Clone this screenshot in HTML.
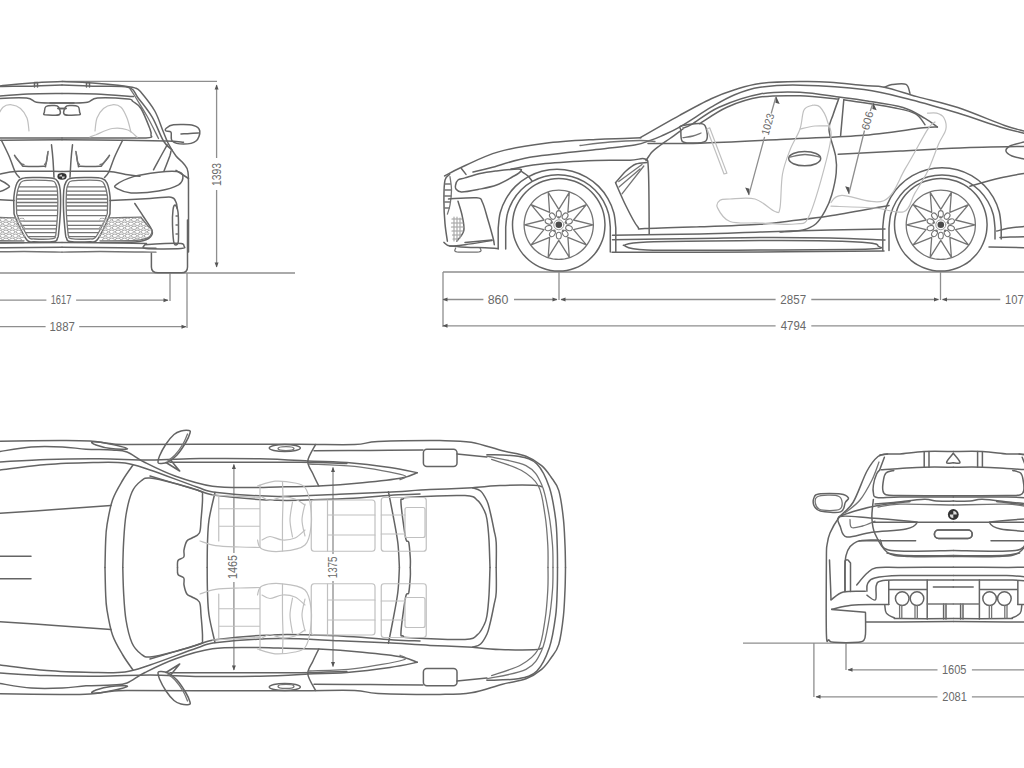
<!DOCTYPE html>
<html><head><meta charset="utf-8">
<style>
html,body{margin:0;padding:0;background:#fff;width:1024px;height:768px;overflow:hidden}
svg{display:block}
text{font-family:"Liberation Sans",sans-serif;font-size:13px;fill:#6a6a6a}
.d{stroke:#8e8e8e;stroke-width:1.3;fill:none}
.o{stroke:#646464;stroke-width:1.5;fill:none;stroke-linejoin:round;stroke-linecap:round}
.t{stroke:#747474;stroke-width:1.3;fill:none;stroke-linejoin:round;stroke-linecap:round}
.l{stroke:#c0c0c0;stroke-width:1.2;fill:none;stroke-linejoin:round;stroke-linecap:round}
.a{fill:#555;stroke:none}
</style></head>
<body>
<svg width="1024" height="768" viewBox="0 0 1024 768">
<g>
<rect width="1024" height="768" fill="#fff"/>
<g id="dims">
<!-- front view -->
<path class="d" d="M0 273H295 M170 273V301 M187 273V328 M62 81.3H217 M216.6 85V158 M216.6 190V267 M0 300.2H46.4 M76.1 300.2H168 M0 326.7H45.6 M79.2 326.7H186"/>
<path class="a" d="M168.5 300.2l-5-2v4z M186.5 326.7l-5-2v4z M216.6 84.5l-2 5h4z M216.6 267.5l-2-5h4z"/>
<text x="61" y="304.1" text-anchor="middle" textLength="20.7" lengthAdjust="spacingAndGlyphs">1617</text>
<text x="62.2" y="331.4" text-anchor="middle" textLength="25.4" lengthAdjust="spacingAndGlyphs">1887</text>
<text transform="translate(221,174.5) rotate(-90)" text-anchor="middle" textLength="23.1" lengthAdjust="spacingAndGlyphs">1393</text>
<!-- side view -->
<path class="d" d="M443 272H1024 M443 272V327 M559 272V300 M940.5 272V300 M443 299.5H483.4 M514 299.5H557 M561 299.5H775.6 M811.3 299.5H938.5 M942.5 299.5H1000.3 M443 325.8H775.6 M811.3 325.8H1024"/>
<path class="a" d="M442.5 299.5l5-2v4z M557.5 299.5l-5-2v4z M560.5 299.5l5-2v4z M939 299.5l-5-2v4z M942 299.5l5-2v4z M442.5 325.8l5-2v4z"/>
<text x="498" y="304" text-anchor="middle" textLength="20.7" lengthAdjust="spacingAndGlyphs">860</text>
<text x="793.2" y="303.8" text-anchor="middle" textLength="25.8" lengthAdjust="spacingAndGlyphs">2857</text>
<text x="1004.9" y="303.8" textLength="25" lengthAdjust="spacingAndGlyphs">1073</text>
<text x="793.4" y="330" text-anchor="middle" textLength="25.4" lengthAdjust="spacingAndGlyphs">4794</text>
<!-- top view -->
<path class="d" d="M233.9 464.5V553 M233.9 582V670 M333 467.5V554 M333 581V666.5"/>
<path class="a" d="M233.9 464l-2 5h4z M233.9 670.5l-2-5h4z M333 467l-2 5h4z M333 667l-2-5h4z"/>
<text transform="translate(237.2,567) rotate(-90)" text-anchor="middle" textLength="24" lengthAdjust="spacingAndGlyphs">1465</text>
<text transform="translate(337.4,567.4) rotate(-90)" text-anchor="middle" textLength="21.9" lengthAdjust="spacingAndGlyphs">1375</text>
<!-- rear view -->
<path class="d" d="M743 643.2H1024 M813.9 643.2V697 M846 643.2V670 M848 669.8H937.5 M971.9 669.8H1024 M816 696.8H937.5 M971.9 696.8H1024"/>
<path class="a" d="M847.5 669.8l5-2v4z M815.5 696.8l5-2v4z"/>
<text x="954.2" y="673.7" text-anchor="middle" textLength="24.6" lengthAdjust="spacingAndGlyphs">1605</text>
<text x="954.6" y="700.7" text-anchor="middle" textLength="24.6" lengthAdjust="spacingAndGlyphs">2081</text>
</g>

<g id="side">
<path class="o" d="M605 224.8C604.9 226.1 604.8 230.2 604.3 232.8C603.9 235.5 603.2 238.1 602.3 240.6C601.3 243.2 600.2 245.6 598.8 248C597.5 250.3 595.9 252.5 594.2 254.6C592.5 256.6 590.6 258.5 588.5 260.3C586.5 262 584.2 263.6 581.9 264.9C579.6 266.2 577.1 267.4 574.6 268.3C572.1 269.2 569.4 269.9 566.8 270.4C564.2 270.9 561.4 271.1 558.8 271.1C556.1 271.1 553.3 270.9 550.7 270.4C548.1 269.9 545.4 269.2 542.9 268.3C540.4 267.4 537.9 266.2 535.6 264.9C533.3 263.6 531 262 529 260.3C526.9 258.5 525 256.6 523.3 254.6C521.6 252.5 520 250.3 518.7 248C517.3 245.6 516.2 243.2 515.2 240.6C514.3 238.1 513.6 235.5 513.2 232.8C512.7 230.2 512.5 227.5 512.5 224.8C512.5 222.1 512.7 219.4 513.2 216.8C513.6 214.1 514.3 211.5 515.2 209C516.2 206.4 517.3 204 518.7 201.7C520 199.3 521.6 197.1 523.3 195C525 193 526.9 191.1 529 189.3C531 187.6 533.3 186 535.6 184.7C537.9 183.4 540.4 182.2 542.9 181.3C545.4 180.4 548.1 179.7 550.7 179.2C553.3 178.7 556.1 178.5 558.8 178.5C561.4 178.5 564.2 178.7 566.8 179.2C569.4 179.7 572.1 180.4 574.6 181.3C577.1 182.2 579.6 183.4 581.9 184.7C584.2 186 586.5 187.6 588.5 189.3C590.6 191.1 592.5 193 594.2 195C595.9 197.1 597.5 199.3 598.8 201.6C600.2 204 601.3 206.4 602.3 209C603.2 211.5 603.9 214.1 604.3 216.8C604.8 219.4 604.9 223.5 605 224.8"/>
<path class="t" d="M593.4 224.8C593.3 225.8 593.2 228.8 592.8 230.8C592.5 232.8 591.9 234.8 591.3 236.6C590.6 238.5 589.7 240.4 588.7 242.1C587.7 243.8 586.5 245.5 585.3 247C584 248.6 582.5 250 581 251.3C579.5 252.6 577.8 253.8 576 254.8C574.3 255.8 572.5 256.6 570.6 257.3C568.7 258 566.7 258.5 564.8 258.9C562.8 259.2 560.8 259.4 558.8 259.4C556.7 259.4 554.7 259.2 552.7 258.9C550.8 258.5 548.8 258 546.9 257.3C545 256.6 543.2 255.8 541.5 254.8C539.7 253.8 538 252.6 536.5 251.3C535 250 533.5 248.6 532.2 247C531 245.5 529.8 243.8 528.8 242.1C527.8 240.4 526.9 238.5 526.2 236.6C525.6 234.8 525 232.8 524.7 230.8C524.3 228.8 524.1 226.8 524.1 224.8C524.1 222.8 524.3 220.8 524.7 218.8C525 216.8 525.6 214.8 526.2 213C526.9 211.1 527.8 209.2 528.8 207.5C529.8 205.8 531 204.1 532.2 202.6C533.5 201 535 199.6 536.5 198.3C538 197 539.7 195.8 541.4 194.8C543.2 193.8 545 193 546.9 192.3C548.8 191.6 550.8 191.1 552.7 190.7C554.7 190.4 556.7 190.2 558.8 190.2C560.8 190.2 562.8 190.4 564.8 190.7C566.7 191.1 568.7 191.6 570.6 192.3C572.5 193 574.3 193.8 576 194.8C577.8 195.8 579.5 197 581 198.3C582.5 199.6 584 201 585.3 202.6C586.5 204.1 587.7 205.8 588.7 207.5C589.7 209.2 590.6 211.1 591.3 213C591.9 214.8 592.5 216.8 592.8 218.8C593.2 220.8 593.3 223.8 593.4 224.8"/>
<path class="t" d="M569.3 192.3L567.9 212.3L586.4 204.7L573.5 220L593 224.8L573.5 229.6L586.4 244.9L567.9 237.3L569.3 257.3L558.8 240.3L548.2 257.3L549.6 237.3L531.1 244.9L544 229.6L524.5 224.8L544 220L531.1 204.7L549.6 212.3L548.2 192.3L558.8 209.3Z"/>
<ellipse class="t" style="stroke-width:1.1" cx="558.8" cy="214" rx="3.4" ry="2.5" transform="rotate(-90 558.8 214)"/>
<ellipse class="t" style="stroke-width:1.1" cx="565.1" cy="216.1" rx="3.4" ry="2.5" transform="rotate(-54 565.1 216.1)"/>
<ellipse class="t" style="stroke-width:1.1" cx="569" cy="221.5" rx="3.4" ry="2.5" transform="rotate(-18 569 221.5)"/>
<ellipse class="t" style="stroke-width:1.1" cx="569" cy="228.1" rx="3.4" ry="2.5" transform="rotate(18 569 228.1)"/>
<ellipse class="t" style="stroke-width:1.1" cx="565.1" cy="233.5" rx="3.4" ry="2.5" transform="rotate(54 565.1 233.5)"/>
<ellipse class="t" style="stroke-width:1.1" cx="558.8" cy="235.6" rx="3.4" ry="2.5" transform="rotate(90 558.8 235.6)"/>
<ellipse class="t" style="stroke-width:1.1" cx="552.4" cy="233.5" rx="3.4" ry="2.5" transform="rotate(126 552.4 233.5)"/>
<ellipse class="t" style="stroke-width:1.1" cx="548.5" cy="228.1" rx="3.4" ry="2.5" transform="rotate(162 548.5 228.1)"/>
<ellipse class="t" style="stroke-width:1.1" cx="548.5" cy="221.5" rx="3.4" ry="2.5" transform="rotate(198 548.5 221.5)"/>
<ellipse class="t" style="stroke-width:1.1" cx="552.4" cy="216.1" rx="3.4" ry="2.5" transform="rotate(234 552.4 216.1)"/>
<circle cx="558.8" cy="217.4" r="1.2" fill="#777"/>
<circle cx="565.8" cy="222.5" r="1.2" fill="#777"/>
<circle cx="563.1" cy="230.8" r="1.2" fill="#777"/>
<circle cx="554.4" cy="230.8" r="1.2" fill="#777"/>
<circle cx="551.7" cy="222.5" r="1.2" fill="#777"/>
<circle class="t" style="stroke:#9a9a9a;stroke-width:1" cx="558.8" cy="224.8" r="5"/>
<circle cx="558.8" cy="224.8" r="3.3" fill="#4a4a4a"/>
<path class="o" d="M987.1 224.8C987 226.1 986.9 230.2 986.4 232.8C985.9 235.5 985.2 238.1 984.3 240.6C983.4 243.2 982.2 245.6 980.9 248C979.6 250.3 978 252.5 976.3 254.6C974.5 256.6 972.6 258.5 970.6 260.3C968.5 262 966.3 263.6 963.9 264.9C961.6 266.2 959.2 267.4 956.6 268.3C954.1 269.2 951.5 269.9 948.8 270.4C946.2 270.9 943.5 271.1 940.8 271.1C938.1 271.1 935.4 270.9 932.8 270.4C930.1 269.9 927.5 269.2 925 268.3C922.4 267.4 920 266.2 917.6 264.9C915.3 263.6 913.1 262 911 260.3C909 258.5 907.1 256.6 905.3 254.6C903.6 252.5 902 250.3 900.7 248C899.4 245.6 898.2 243.2 897.3 240.6C896.4 238.1 895.7 235.5 895.2 232.8C894.7 230.2 894.5 227.5 894.5 224.8C894.5 222.1 894.7 219.4 895.2 216.8C895.7 214.1 896.4 211.5 897.3 209C898.2 206.4 899.4 204 900.7 201.7C902 199.3 903.6 197.1 905.3 195C907.1 193 909 191.1 911 189.3C913.1 187.6 915.3 186 917.6 184.7C920 183.4 922.4 182.2 925 181.3C927.5 180.4 930.1 179.7 932.8 179.2C935.4 178.7 938.1 178.5 940.8 178.5C943.5 178.5 946.2 178.7 948.8 179.2C951.5 179.7 954.1 180.4 956.6 181.3C959.2 182.2 961.6 183.4 963.9 184.7C966.3 186 968.5 187.6 970.6 189.3C972.6 191.1 974.5 193 976.3 195C978 197.1 979.6 199.3 980.9 201.6C982.2 204 983.4 206.4 984.3 209C985.2 211.5 985.9 214.1 986.4 216.8C986.9 219.4 987 223.5 987.1 224.8"/>
<path class="t" d="M975.4 224.8C975.3 225.8 975.2 228.8 974.9 230.8C974.5 232.8 974 234.8 973.3 236.6C972.6 238.5 971.8 240.4 970.8 242.1C969.8 243.8 968.6 245.5 967.3 247C966 248.6 964.6 250 963 251.3C961.5 252.6 959.8 253.8 958.1 254.8C956.4 255.8 954.5 256.6 952.6 257.3C950.8 258 948.8 258.5 946.8 258.9C944.8 259.2 942.8 259.4 940.8 259.4C938.8 259.4 936.8 259.2 934.8 258.9C932.8 258.5 930.8 258 929 257.3C927.1 256.6 925.2 255.8 923.5 254.8C921.8 253.8 920.1 252.6 918.6 251.3C917 250 915.6 248.6 914.3 247C913 245.5 911.8 243.8 910.8 242.1C909.8 240.4 909 238.5 908.3 236.6C907.6 234.8 907.1 232.8 906.7 230.8C906.4 228.8 906.2 226.8 906.2 224.8C906.2 222.8 906.4 220.8 906.7 218.8C907.1 216.8 907.6 214.8 908.3 213C909 211.1 909.8 209.2 910.8 207.5C911.8 205.8 913 204.1 914.3 202.6C915.6 201 917 199.6 918.6 198.3C920.1 197 921.8 195.8 923.5 194.8C925.2 193.8 927.1 193 929 192.3C930.8 191.6 932.8 191.1 934.8 190.7C936.8 190.4 938.8 190.2 940.8 190.2C942.8 190.2 944.8 190.4 946.8 190.7C948.8 191.1 950.8 191.6 952.6 192.3C954.5 193 956.4 193.8 958.1 194.8C959.8 195.8 961.5 197 963 198.3C964.6 199.6 966 201 967.3 202.6C968.6 204.1 969.8 205.8 970.8 207.5C971.8 209.2 972.6 211.1 973.3 213C974 214.8 974.5 216.8 974.9 218.8C975.2 220.8 975.3 223.8 975.4 224.8"/>
<path class="t" d="M951.4 192.3L949.9 212.3L968.5 204.7L955.5 220L975 224.8L955.5 229.6L968.5 244.9L949.9 237.3L951.4 257.3L940.8 240.3L930.2 257.3L931.7 237.3L913.1 244.9L926.1 229.6L906.6 224.8L926.1 220L913.1 204.7L931.7 212.3L930.2 192.3L940.8 209.3Z"/>
<ellipse class="t" style="stroke-width:1.1" cx="940.8" cy="214" rx="3.4" ry="2.5" transform="rotate(-90 940.8 214)"/>
<ellipse class="t" style="stroke-width:1.1" cx="947.1" cy="216.1" rx="3.4" ry="2.5" transform="rotate(-54 947.1 216.1)"/>
<ellipse class="t" style="stroke-width:1.1" cx="951.1" cy="221.5" rx="3.4" ry="2.5" transform="rotate(-18 951.1 221.5)"/>
<ellipse class="t" style="stroke-width:1.1" cx="951.1" cy="228.1" rx="3.4" ry="2.5" transform="rotate(18 951.1 228.1)"/>
<ellipse class="t" style="stroke-width:1.1" cx="947.1" cy="233.5" rx="3.4" ry="2.5" transform="rotate(54 947.1 233.5)"/>
<ellipse class="t" style="stroke-width:1.1" cx="940.8" cy="235.6" rx="3.4" ry="2.5" transform="rotate(90 940.8 235.6)"/>
<ellipse class="t" style="stroke-width:1.1" cx="934.5" cy="233.5" rx="3.4" ry="2.5" transform="rotate(126 934.5 233.5)"/>
<ellipse class="t" style="stroke-width:1.1" cx="930.5" cy="228.1" rx="3.4" ry="2.5" transform="rotate(162 930.5 228.1)"/>
<ellipse class="t" style="stroke-width:1.1" cx="930.5" cy="221.5" rx="3.4" ry="2.5" transform="rotate(198 930.5 221.5)"/>
<ellipse class="t" style="stroke-width:1.1" cx="934.5" cy="216.1" rx="3.4" ry="2.5" transform="rotate(234 934.5 216.1)"/>
<circle cx="940.8" cy="217.4" r="1.2" fill="#777"/>
<circle cx="947.8" cy="222.5" r="1.2" fill="#777"/>
<circle cx="945.1" cy="230.8" r="1.2" fill="#777"/>
<circle cx="936.5" cy="230.8" r="1.2" fill="#777"/>
<circle cx="933.8" cy="222.5" r="1.2" fill="#777"/>
<circle class="t" style="stroke:#9a9a9a;stroke-width:1" cx="940.8" cy="224.8" r="5"/>
<circle cx="940.8" cy="224.8" r="3.3" fill="#4a4a4a"/>
<path class="o" d="M498.2 249L498.2 228C498.5 225.5 498.9 217.7 500.2 212.8C501.5 207.9 503.5 203 506.1 198.6C508.6 194.2 511.8 190 515.4 186.4C519 182.8 523.2 179.6 527.6 177.1C532 174.5 536.9 172.5 541.8 171.2C546.7 169.9 551.9 169.2 557 169.2C562.1 169.2 567.3 169.9 572.2 171.2C577.1 172.5 582 174.5 586.4 177.1C590.8 179.6 595 182.8 598.6 186.4C602.2 190 605.4 194.2 607.9 198.6C610.5 203 612.5 207.9 613.8 212.8C615.1 217.7 615.5 225.5 615.8 228L615.8 252"/>
<path class="o" d="M505.7 249L505.7 227C506 224.7 506.3 217.8 507.5 213.5C508.6 209.1 510.5 204.8 512.7 200.8C515 196.9 517.8 193.2 521 190C524.2 186.8 527.9 184 531.9 181.7C535.8 179.5 540.1 177.6 544.5 176.5C548.8 175.3 553.5 174.7 558 174.7C562.5 174.7 567.2 175.3 571.5 176.5C575.9 177.6 580.2 179.5 584.1 181.7C588.1 184 591.8 186.8 595 190C598.2 193.2 601 196.9 603.3 200.8C605.5 204.8 607.4 209.1 608.5 213.5C609.7 217.8 610 224.7 610.3 227L610.3 252"/>
<path class="o" d="M882.8 250.5L882.8 227C883.1 224.4 883.5 216.6 884.8 211.7C886.1 206.7 888.2 201.8 890.7 197.4C893.3 193 896.5 188.8 900.1 185.1C903.8 181.5 908 178.3 912.4 175.7C916.8 173.2 921.7 171.1 926.7 169.8C931.6 168.5 936.9 167.8 942 167.8C947.1 167.8 952.4 168.5 957.3 169.8C962.3 171.1 967.2 173.2 971.6 175.7C976 178.3 980.2 181.5 983.9 185.1C987.5 188.8 990.7 193 993.3 197.4C995.8 201.8 997.9 206.7 999.2 211.7C1000.5 216.6 1000.9 224.4 1001.2 227L1001.2 239"/>
<path class="o" d="M889 250.5L889 228C889.3 225.7 889.6 218.7 890.8 214.3C892 209.9 893.8 205.5 896.1 201.5C898.4 197.5 901.3 193.8 904.5 190.5C907.8 187.3 911.5 184.4 915.5 182.1C919.5 179.8 923.9 178 928.3 176.8C932.7 175.6 937.4 175 942 175C946.6 175 951.3 175.6 955.7 176.8C960.1 178 964.5 179.8 968.5 182.1C972.5 184.4 976.2 187.3 979.5 190.5C982.7 193.8 985.6 197.5 987.9 201.5C990.2 205.5 992 209.9 993.2 214.3C994.4 218.7 994.7 225.7 995 228L995 239"/>
<path class="o" d="M444.6 176C447.6 174.4 453.6 170.7 462.6 166.7C471.6 162.7 484.7 155.8 498.5 151.9C512.3 148 529.1 145.4 545.4 143.3C561.6 141.2 582.9 140.2 596 139.4C609.1 138.6 616.5 138.9 624 138.6C631.5 138.3 638.2 137.9 641 137.8"/>
<path class="o" d="M473 172C475.9 171.3 481.2 170.2 490.7 167.8C500.2 165.4 512.2 160.4 529.8 157.3C547.3 154.2 578.5 151.6 596 149.5C613.5 147.4 625.7 146.5 634.7 145C643.7 143.5 645.6 142 650 140.5C654.4 139 656.2 138.4 661.2 136.1C666.2 133.8 671.7 131.6 680 126.8C688.3 122 702.1 112.6 711.2 107.2C720.4 101.9 726.6 98.1 734.7 94.8C742.8 91.4 749.1 88.9 760 87.3C770.9 85.7 782.7 84.8 800 85.2C817.3 85.6 845.5 87.1 864 89.5C882.5 91.9 895.3 95.8 910.9 99.7C926.5 103.6 942.9 108.5 957.8 113C972.6 117.5 989 123.6 1000 127C1011 130.4 1020 132.2 1024 133.3"/>
<path class="o" d="M648 143.6C656.7 143.5 678 143.9 700 143.2C722 142.5 753.3 140.8 780 139.5C806.7 138.2 836.1 137.5 860 135.6C883.9 133.7 910.5 129.2 923.4 127.8C936.3 126.4 935.1 127.1 937.4 127"/>
<path class="o" d="M511 169C516.7 168.1 531.2 165 545.4 163.6C559.6 162.2 581.9 161.1 596 160.5C610.1 159.9 621.8 160.6 630 160.3C638.2 160.1 641.9 157.4 645 159C648.1 160.6 647.7 157.5 648.4 170C649.1 182.5 649.1 223.3 649.2 234"/>
<path class="o" d="M646 160.5C647 159.1 649.7 154.5 652 152C654.3 149.5 657 147.8 660 145.5C663 143.2 666.2 141.2 670 138.5C673.8 135.8 680.8 130.6 683 129"/>
<path class="t" d="M580 145.5C585 144.9 600 142.8 610 142C620 141.2 632.5 140.6 640 140.5C647.5 140.4 652.5 141.3 655 141.5"/>
<path class="o" d="M455.6 185C455.9 183.5 456.4 181.2 458 180C459.6 178.8 461.3 179 465 177.9C468.7 176.8 474.7 174.7 480 173.5C485.3 172.3 490.3 171.7 496.6 170.9C502.9 170.2 513.9 169 518 169C522.1 169 521.7 169.8 521 171C520.3 172.2 518.1 173.7 514 176C509.9 178.3 502.6 182.8 496.6 185C490.6 187.2 483.9 188.3 478 189.5C472.1 190.7 465.1 192.1 461.4 192C457.7 191.9 457 190.2 456 189C455 187.8 455.3 186.5 455.6 185Z"/>
<path class="o" d="M461.4 168.5L466 174.4"/>
<path class="o" d="M521 171C522.2 171.8 526.2 174.3 528 176C529.8 177.7 531.3 180.2 532 181"/>
<path class="o" d="M449.7 174.4C448.9 175.4 446 175.9 445 180.2C444 184.5 443.9 193 443.9 200.2C443.9 207.4 444.4 216.8 445 223.6C445.6 230.4 447 238.3 447.4 241.2"/>
<path class="t" d="M450 176.7C450.2 178.9 451.5 185.3 451.5 190C451.5 194.7 450.7 201 450 205C449.3 209 447.8 212.7 447.4 214.2"/>
<path class="t" d="M445 184H450.5M444.5 190H451M444.3 196H451M444.3 202H450.5M444.5 208H449.5"/>
<path class="o" d="M448.5 199C453.2 198.8 471 197.2 476.7 197.8C482.4 198.4 480.6 198.8 482.5 202.5C484.4 206.2 486.2 214.1 488 220C489.8 225.9 491.9 233.6 493 237.7C494.1 241.8 494.1 243.5 494.3 244.7"/>
<path class="o" d="M458 201.3C458.7 203.6 461 210.1 462 215C463 219.9 464.7 226.2 463.8 230.6C462.9 235 458 239.4 456.8 241.2"/>
<path class="l" d="M452 219H462M451.5 223H463M451.5 227H463.5M452 231H463M452.5 235H461M453 239H458" style="stroke:#999"/>
<path class="l" d="M454 217V241M457 217V241M460 218V238" style="stroke:#aaa"/>
<path class="o" d="M443.9 242.4C444.9 243 446.2 245.5 449.7 245.9C453.2 246.3 457.9 245.6 465 244.7C472.1 243.8 487.5 241.2 492 240.5"/>
<path class="o" d="M465 242.4L492 240"/>
<path class="t" d="M455.6 248.2C455.8 248.8 452.9 251.2 456.8 251.8C460.7 252.3 475.1 252.3 479 251.8C482.9 251.2 480 248.8 480.2 248.2"/>
<path class="o" d="M449.7 245.9C452.4 246.1 460.1 246.9 466 247.2C471.9 247.5 479.7 247.6 485 247.8C490.3 248 495.8 248.5 498 248.6"/>
<path class="o" d="M640.2 137.7C646.8 133.9 668.2 121.6 680 115.1C691.8 108.6 702.1 102.9 711.2 98.7C720.4 94.5 726.6 92.2 734.7 89.7C742.8 87.2 749.1 84.8 760 83.4C770.9 82.1 788.3 81.8 800 81.6C811.7 81.4 819.3 81.5 830 82.2C840.7 82.9 855 84.8 864 85.6C873 86.4 875.5 85.4 884.3 87.2C893.1 89 904.8 93.2 917 96.6C929.2 100 943.1 102.7 957.8 107.5C972.4 112.3 993.6 121.6 1004.6 125.5C1015.6 129.4 1020.8 130.1 1024 131"/>
<path class="o" d="M683 128C684.5 127.4 685.7 127.9 691.7 124.4C697.7 120.9 707.6 112.3 719 107.2C730.4 102.2 746.5 96.5 760 94C773.5 91.5 786.6 91.7 800 92.2C813.4 92.8 829.9 95.9 840.6 97.3C851.3 98.7 853.6 98.8 864 100.5C874.4 102.2 892.8 104.5 903 107.5C913.2 110.5 919.3 115.2 925 118.4C930.7 121.7 935.3 125.6 937.4 127"/>
<path class="o" d="M699.5 123.7C704.1 121 716.8 111.7 726.9 107.2C737 102.8 747.8 99 760 97.1C772.2 95.2 787.1 95.5 800 95.8C812.9 96.1 831.2 98.4 837.5 98.9"/>
<path class="o" d="M884.3 87.2C885.6 86.8 888.4 85.1 892 84.6C895.6 84.1 903 82.9 906 84.4C909 85.9 909.3 91.9 910 93.4"/>
<path class="o" d="M843.8 99.7C847.1 100.2 855.5 101.4 864 102.8C872.5 104.2 886.4 106.2 895 108C903.6 109.8 910.6 111 915.6 113.8C920.6 116.5 923.4 122.9 925 124.7"/>
<path class="o" d="M843.8 99.7L840.6 135.6"/>
<path class="o" d="M839 98C838 100.8 834.7 109.7 833 115C831.3 120.3 828.6 123.2 829 130C829.4 136.8 834.4 148.8 835.6 156C836.8 163.2 836.9 166.5 836.2 173C835.6 179.5 833.5 188.7 831.7 195C829.9 201.3 827.8 205.9 825.2 210.7C822.6 215.5 819.7 220.5 816 223.8C812.3 227 809 228.6 803 230C797 231.4 783.8 231.7 780 232"/>
<path class="o" d="M681 126C684.2 124.9 695.8 123.2 700 123.5C704.2 123.8 705 125.1 706 128C707 130.9 708.5 138.5 705.8 141C703.1 143.5 694 143.1 690 143.1C686 143.1 683.5 143.2 682 141C680.5 138.8 681 132.5 680.8 130C680.6 127.5 677.8 127.1 681 126Z"/>
<path class="t" d="M683 137.7C684.7 137.4 690 136.8 693 136C696 135.2 699.7 133.5 701 133"/>
<path class="o" d="M615.6 182.8C617.3 186.7 622.4 198.7 626 206C629.6 213.3 634.3 222.8 637.5 226.6C640.7 230.3 634.6 228.5 645 228.5C655.4 228.5 680.8 227.5 700 226.8C719.2 226.1 745 225.2 760 224.2C775 223.2 778.5 222.4 790 221C801.5 219.6 814.9 218.2 829 216C843.1 213.8 864.6 209.8 874.6 208C884.6 206.2 886.6 205.9 889 205.5"/>
<path class="o" d="M615.6 182.8C617.3 180.8 622.6 174.1 626 171C629.4 167.9 632.5 165.4 636 164C639.5 162.6 645.2 162.8 647 162.5"/>
<path class="t" d="M618.8 181.5L642 164.5"/>
<path class="t" d="M619 187L640 169"/>
<path class="t" d="M622 193.8L643.8 166"/>
<path class="o" d="M612.5 235.2C627.1 235 675.4 234.5 700 234C724.6 233.5 738.3 232.7 760 232C781.7 231.3 809.2 230.5 830 230C850.8 229.5 875.8 229.2 885 229"/>
<path class="o" d="M612.5 239.8C627.1 239.6 675.4 238.9 700 238.5C724.6 238.1 738.3 237.6 760 237.5C781.7 237.4 809.2 237.6 830 238C850.8 238.4 875.8 239.7 885 240"/>
<path class="o" d="M623.4 245.3C627.3 244.8 624.2 242.8 647 242C669.8 241.2 729.5 240.8 760 240.6C790.5 240.4 811.7 240.6 830 241C848.3 241.4 862 242.2 870 243C878 243.8 878 245 878 246C878 247 889.7 248.3 870 249C850.3 249.7 797.2 249.8 760 250C722.8 250.2 669.8 250.8 647 250C624.2 249.2 627.3 246.1 623.4 245.3"/>
<path class="o" d="M612 252.3C626.7 252.3 654.7 252.5 700 252.3C745.3 252.1 853.3 251.2 884 251"/>
<path class="o" d="M970 186.2C975 184.8 991 180.1 1000 178C1009 175.9 1020 174.2 1024 173.4"/>
<path class="o" d="M838.2 154.2C848.5 153.7 879.7 152.1 900 151C920.3 149.9 939.3 148.7 960 147.9C980.7 147.2 1013.3 146.7 1024 146.5"/>
<path class="o" d="M1024 142C1021.7 142.7 1013 144.5 1010 146C1007 147.5 1005.7 149.6 1006 151.2C1006.3 152.9 1009 154.7 1012 156C1015 157.3 1022 158.5 1024 159"/>
<path class="o" d="M996.8 231C999 230.5 1005.5 228.7 1010 228C1014.5 227.3 1021.7 226.8 1024 226.6"/>
<path class="o" d="M1000 237.5C1001.7 237.4 1006 237.1 1010 237C1014 236.9 1021.7 236.8 1024 236.7"/>
<path class="o" d="M989 246.9L1024 247.7"/>
<ellipse class="o" cx="804.7" cy="158.6" rx="16" ry="7.2"/>
<path class="t" d="M790 157C792.5 156.6 800 154.5 805 154.5C810 154.5 817.5 156.6 820 157"/>
<path class="l" d="M709.7 127.8L726.9 173.1L724 174L707 129Z"/>
<path class="l" d="M812.5 105.2C811.1 106 806.1 106 804 110C801.9 114 802.3 122.3 800 129C797.7 135.7 792.9 142.5 790 150C787.1 157.5 784.2 164.4 782.5 174C780.8 183.6 781.2 201.5 780 207.8C778.8 214 779.2 213 775 211.5C770.8 210 762.5 201.1 755 199C747.5 196.9 735.8 198.8 730 199C724.2 199.2 722.1 198.8 720 200.2C717.9 201.7 715.8 204.2 717.5 207.8C719.2 211.3 722.9 219 730 221.5C737.1 224 749.2 222.6 760 223C770.8 223.4 786.7 225.5 795 224C803.3 222.5 804.2 227.3 810 214C815.8 200.7 827.1 159.4 830 144C832.9 128.6 829.2 127.7 827.5 121.5C825.8 115.3 822.5 109.7 820 107C817.5 104.3 813.8 105.5 812.5 105.2"/>
<path class="l" d="M800 129C802.5 128.5 810 126.5 815 126C820 125.5 827.5 126 830 126"/>
<path class="l" d="M831 202.5C832.8 201.3 833.1 195.6 841.9 195.3C850.7 195 873.2 205.3 883.8 200.7C894.4 196.1 898.4 179.8 905.7 167.9C913 156.1 922.6 137.2 927.5 129.6C932.4 121.9 933.8 123.3 935 122"/>
<path class="l" d="M831 206.2C838.3 206.5 862.6 207.1 874.7 208C886.8 208.9 897.1 214.1 903.8 211.7C910.5 209.3 910.8 200.1 914.8 193.4C918.8 186.7 923.5 179.8 927.5 171.6C931.5 163.4 935.5 151.2 938.5 144.2C941.5 137.2 944.9 134 945.8 129.6C946.7 125.2 945.5 120.7 944 118C942.5 115.3 939.5 114 936.7 113.2C934 112.4 929 113.2 927.5 113.2"/>
<path class="d" d="M776.1 96.3L771.2 113.5M764.6 136.8L748.8 195.2"/>
<path class="a" d="M776.1 96.3l-0.7 6.5 4.3 1.2z M748.75 195.25l0.7-6.5-4.3-1.2z"/>
<text transform="translate(771.5,125.2) rotate(-74.6)" text-anchor="middle" textLength="22" lengthAdjust="spacingAndGlyphs" style="font-size:11px">1023</text>
<path class="d" d="M873.1 102.6L870.3 111M864.5 130.5L848.8 194"/>
<path class="a" d="M873.1 102.6l-0.7 6.5 4.3 1.2z M848.75 194l0.7-6.5-4.3-1.2z"/>
<text transform="translate(863.8,119.8) rotate(104.9)" text-anchor="middle" textLength="19" lengthAdjust="spacingAndGlyphs" style="font-size:11px">909</text>
</g>
<g id="front">
<defs><clipPath id="kidclip"><path d="M68 233C67.6 228.8 66.5 218 66.3 211C66 204 66.2 195.5 66.5 191C66.8 186.5 67.4 185.7 68.3 184C69.2 182.3 68.4 181.4 72 180.8C75.6 180.2 85.2 180.2 90 180.2C94.8 180.2 98.6 180.2 101 181C103.4 181.8 103.5 182.5 104.6 185C105.7 187.5 106.9 191.7 107.4 196C107.9 200.3 107.5 207.8 107.4 211C107.3 214.2 107.7 212.6 106.6 215.5C105.5 218.4 102.7 224.8 100.8 228.5C98.9 232.2 96.9 236.1 95 237.8C93.1 239.6 93.5 238.8 89.5 239C85.5 239.2 74.5 239.2 71 238.7C67.5 238.2 69.3 236.9 68.8 236C68.3 235.1 68.4 237.2 68 233Z"/></clipPath>
<clipPath id="meshclip"><path d="M100 217.5L141 217.2L151 231L147 237.5L135 240L96 240.5Z"/></clipPath></defs>
<g id="fhalf"><path class="o" d="M62 81.6C67.1 81.8 83.2 82.3 92.5 82.9C101.8 83.5 111 84.4 118 85.2C125 86 130.9 86.7 134.8 87.9C138.6 89.1 137.7 88.4 141 92.2C144.3 96.1 151.1 104.5 154.8 111C158.4 117.5 160.8 125.7 163 131C165.2 136.3 165.8 138.8 168 143C170.2 147.2 173.4 152.6 176 156C178.6 159.4 181.5 160.8 183.5 163.5C185.5 166.2 187.2 166.2 188 172.2C188.8 178.3 188.4 186.7 188.5 200C188.6 213.3 188.5 243.3 188.5 252"/>
<path class="o" d="M62 85C67.1 85.2 81.5 85.8 92.5 86.2C103.5 86.6 120.2 85.2 127.9 87.2C135.6 89.3 134.4 93.5 138.5 98.5C142.6 103.5 148.1 110.2 152.2 117.2C156.4 124.3 160.2 135.5 163.5 141C166.8 146.5 170.6 148.5 172 150"/>
<path class="t" d="M129.8 88.5C130.6 89.8 131.9 91.4 134.8 96C137.6 100.6 143 108.9 147 116C151 123.1 156.6 134.8 158.5 138.5"/>
<path class="o" d="M86.5 87V82.5h3V87"/>
<path class="o" d="M62 93.5C67.7 93.6 84.1 93.6 96 94.1C107.9 94.6 127.2 96.2 133.5 96.6"/>
<path class="o" d="M50 102.9C53.5 102.9 65 103 71.2 102.9C77.5 102.8 83.1 103.1 87.5 102.2C91.9 101.4 90.8 98.4 97.5 97.9C104.2 97.4 122.1 98.4 128 99C133.9 99.6 130.8 99.9 133 101.5C135.2 103.1 138.2 104 141 108.5C143.8 113 148.1 124.1 149.8 128.5C151.4 132.9 151.6 133.2 151 134.8C150.4 136.3 155.2 137.4 146 137.9C136.8 138.4 110 137.9 96 137.9C82 137.9 67.7 137.9 62 137.9"/>
<path class="o" d="M64.5 114.5C62.3 113.2 64.7 108.5 65.6 107C66.5 105.5 67.9 105.6 70 105.5C72.1 105.4 76.4 105.4 78 106.5C79.6 107.6 79.4 110.6 79.6 112C79.8 113.4 81.5 114.3 79 114.8C76.5 115.2 66.7 115.8 64.5 114.5Z"/>
<path class="o" d="M58 108.5H66"/>
<path class="l" d="M95 131C95.3 128.8 95.6 121.8 97 118C98.4 114.2 101 110.7 103.5 108.5C106 106.3 109.3 105 112.2 104.8C115.2 104.5 118.5 105 121 107.2C123.5 109.5 125.3 113.8 127 118C128.7 122.2 130.3 129.9 131 132.2"/>
<path class="o" d="M62 139.8C71.7 139.8 102.7 140 120 140.2C137.3 140.4 155.4 140.7 166 141C176.6 141.3 180.6 142 183.5 142.2"/>
<path class="o" d="M122.5 140.5C121.2 143.1 117.3 150.8 115 156C112.7 161.2 110.5 168.4 108.8 172C107 175.6 105.2 176.6 104.5 177.5"/>
<path class="o" d="M72.5 144.8C72.2 147.3 71.4 154.6 71 160C70.6 165.4 70.2 174.4 70 177.2"/>
<path class="o" d="M75.9 151.4C76.3 153.7 77.5 162.8 78.3 165.3C79.1 167.8 77 166.1 80.5 166.3C84 166.5 95.8 166.6 99.4 166.3C103 166.1 100.6 166.6 102.3 164.8C104 163 108.3 156.9 109.5 155.3"/>
<path class="t" d="M76.3 153.5C76.5 154.9 77.1 160.2 77.6 162C78.1 163.8 79.2 164 79.5 164.4"/>
<path class="t" d="M108.7 157C107.8 158.1 104.5 162 103 163.3C101.5 164.6 100.5 164.4 100 164.6"/>
<path class="o" d="M62 171.5C69.3 171.5 95 170.8 106 171.3C117 171.8 122.3 173.9 128 174.8C133.7 175.6 138 176 140 176.2"/>
<path class="o" d="M65.5 234.3C65 229.8 63.9 218.4 63.6 211C63.3 203.6 63.4 194.8 63.8 190C64.2 185.2 64.8 184 66 182C67.2 180 67 178.9 71 178.2C75 177.4 84.8 177.4 90 177.5C95.2 177.6 99.2 177.6 102 178.5C104.8 179.4 105.7 180.1 107 183C108.3 185.9 109.5 191.3 110 196C110.5 200.7 110.1 207.7 110 211C109.9 214.3 110.4 212.8 109.2 216C108 219.2 105.1 225.9 103 230C100.9 234.1 98.7 238.6 96.5 240.6C94.3 242.6 94.4 241.7 90 241.8C85.6 242 73.9 242.1 70 241.5C66.1 240.9 67.2 239.2 66.5 238C65.8 236.8 66 238.8 65.5 234.3Z"/>
<path class="t" d="M68 233C67.6 228.8 66.5 218 66.3 211C66 204 66.2 195.5 66.5 191C66.8 186.5 67.4 185.7 68.3 184C69.2 182.3 68.4 181.4 72 180.8C75.6 180.2 85.2 180.2 90 180.2C94.8 180.2 98.6 180.2 101 181C103.4 181.8 103.5 182.5 104.6 185C105.7 187.5 106.9 191.7 107.4 196C107.9 200.3 107.5 207.8 107.4 211C107.3 214.2 107.7 212.6 106.6 215.5C105.5 218.4 102.7 224.8 100.8 228.5C98.9 232.2 96.9 236.1 95 237.8C93.1 239.6 93.5 238.8 89.5 239C85.5 239.2 74.5 239.2 71 238.7C67.5 238.2 69.3 236.9 68.8 236C68.3 235.1 68.4 237.2 68 233Z"/>
<path class="t" d="M66 186.9H109M66 191.2H109M66 195H109M66 199H109M66 202.5H109M66 206H109M66 210.1H109M66 215.6H109M66 221.2H109M66 225.3H109M66 228.9H109M66 232.6H109M66 236.6H109" clip-path="url(#kidclip)"/>
<path class="o" d="M116 184.8C118.7 182.8 126.4 178.7 133.5 176.6C140.6 174.5 151.2 173.1 158.5 172.2C165.8 171.4 173.2 171 177.2 171.6C181.3 172.2 182.7 173.8 182.9 176C183.1 178.2 182.6 182.2 178.5 184.8C174.4 187.2 166.4 189.6 158.5 191C150.6 192.4 137.9 193.3 131 192.9C124.1 192.5 119.8 189.9 117.2 188.5C114.8 187.1 113.3 186.7 116 184.8Z"/>
<path class="o" d="M153.5 169.8C154.8 167.5 158.7 160.2 161 156C163.3 151.8 166.2 146.6 167.2 144.8"/>
<path class="o" d="M164 171C165 168.5 168.6 159.3 169.8 156C170.9 152.7 170.8 151.8 171 151"/>
<path class="o" d="M176 170.4L188.5 178.5"/>
<path class="o" d="M110 200.4C116.7 200.1 139.8 199 150 198.5C160.2 198 166.7 196.6 171 197.2C175.3 197.9 175 200.4 176 202.2C177 204.1 177 207.5 177.2 208.5"/>
<path class="o" d="M175 205C175.8 205.3 177.4 207.8 178 212C178.6 216.2 178.5 224.8 178.5 230C178.5 235.2 178.8 240.8 178 243C177.2 245.2 174.9 246 174 243C173.1 240 172.7 230.5 172.5 225C172.3 219.5 172.6 213.3 173 210C173.4 206.7 174.2 204.7 175 205Z"/>
<path class="t" d="M176 216h2M176 225h2M176 234h2"/>
<path class="o" d="M134.8 203.5C136.1 205.6 140.1 211.4 143 216C145.9 220.6 151.3 227.2 152.2 231C153.2 234.8 151.4 236.7 148.5 238.5C145.6 240.3 143.1 241.3 135 242C126.9 242.7 105.8 242.4 100 242.5"/>
<path class="t" d="M108.5 217.9C111.2 217.8 119.6 217.6 125 217.5C130.4 217.4 138.3 217.3 141 217.2"/>
<path class="l" d="M99.3 219.8a2.7 1.7 0 1 0 5.4 0a2.7 1.7 0 1 0 -5.4 0M105.7 219.8a2.7 1.7 0 1 0 5.4 0a2.7 1.7 0 1 0 -5.4 0M112.1 219.8a2.7 1.7 0 1 0 5.4 0a2.7 1.7 0 1 0 -5.4 0M118.5 219.8a2.7 1.7 0 1 0 5.4 0a2.7 1.7 0 1 0 -5.4 0M124.9 219.8a2.7 1.7 0 1 0 5.4 0a2.7 1.7 0 1 0 -5.4 0M131.3 219.8a2.7 1.7 0 1 0 5.4 0a2.7 1.7 0 1 0 -5.4 0M137.7 219.8a2.7 1.7 0 1 0 5.4 0a2.7 1.7 0 1 0 -5.4 0M144.1 219.8a2.7 1.7 0 1 0 5.4 0a2.7 1.7 0 1 0 -5.4 0M150.5 219.8a2.7 1.7 0 1 0 5.4 0a2.7 1.7 0 1 0 -5.4 0M102.5 223.8a2.7 1.7 0 1 0 5.4 0a2.7 1.7 0 1 0 -5.4 0M108.9 223.8a2.7 1.7 0 1 0 5.4 0a2.7 1.7 0 1 0 -5.4 0M115.3 223.8a2.7 1.7 0 1 0 5.4 0a2.7 1.7 0 1 0 -5.4 0M121.7 223.8a2.7 1.7 0 1 0 5.4 0a2.7 1.7 0 1 0 -5.4 0M128.1 223.8a2.7 1.7 0 1 0 5.4 0a2.7 1.7 0 1 0 -5.4 0M134.5 223.8a2.7 1.7 0 1 0 5.4 0a2.7 1.7 0 1 0 -5.4 0M140.9 223.8a2.7 1.7 0 1 0 5.4 0a2.7 1.7 0 1 0 -5.4 0M147.3 223.8a2.7 1.7 0 1 0 5.4 0a2.7 1.7 0 1 0 -5.4 0M153.7 223.8a2.7 1.7 0 1 0 5.4 0a2.7 1.7 0 1 0 -5.4 0M99.3 227.8a2.7 1.7 0 1 0 5.4 0a2.7 1.7 0 1 0 -5.4 0M105.7 227.8a2.7 1.7 0 1 0 5.4 0a2.7 1.7 0 1 0 -5.4 0M112.1 227.8a2.7 1.7 0 1 0 5.4 0a2.7 1.7 0 1 0 -5.4 0M118.5 227.8a2.7 1.7 0 1 0 5.4 0a2.7 1.7 0 1 0 -5.4 0M124.9 227.8a2.7 1.7 0 1 0 5.4 0a2.7 1.7 0 1 0 -5.4 0M131.3 227.8a2.7 1.7 0 1 0 5.4 0a2.7 1.7 0 1 0 -5.4 0M137.7 227.8a2.7 1.7 0 1 0 5.4 0a2.7 1.7 0 1 0 -5.4 0M144.1 227.8a2.7 1.7 0 1 0 5.4 0a2.7 1.7 0 1 0 -5.4 0M150.5 227.8a2.7 1.7 0 1 0 5.4 0a2.7 1.7 0 1 0 -5.4 0M102.5 231.8a2.7 1.7 0 1 0 5.4 0a2.7 1.7 0 1 0 -5.4 0M108.9 231.8a2.7 1.7 0 1 0 5.4 0a2.7 1.7 0 1 0 -5.4 0M115.3 231.8a2.7 1.7 0 1 0 5.4 0a2.7 1.7 0 1 0 -5.4 0M121.7 231.8a2.7 1.7 0 1 0 5.4 0a2.7 1.7 0 1 0 -5.4 0M128.1 231.8a2.7 1.7 0 1 0 5.4 0a2.7 1.7 0 1 0 -5.4 0M134.5 231.8a2.7 1.7 0 1 0 5.4 0a2.7 1.7 0 1 0 -5.4 0M140.9 231.8a2.7 1.7 0 1 0 5.4 0a2.7 1.7 0 1 0 -5.4 0M147.3 231.8a2.7 1.7 0 1 0 5.4 0a2.7 1.7 0 1 0 -5.4 0M153.7 231.8a2.7 1.7 0 1 0 5.4 0a2.7 1.7 0 1 0 -5.4 0M99.3 235.8a2.7 1.7 0 1 0 5.4 0a2.7 1.7 0 1 0 -5.4 0M105.7 235.8a2.7 1.7 0 1 0 5.4 0a2.7 1.7 0 1 0 -5.4 0M112.1 235.8a2.7 1.7 0 1 0 5.4 0a2.7 1.7 0 1 0 -5.4 0M118.5 235.8a2.7 1.7 0 1 0 5.4 0a2.7 1.7 0 1 0 -5.4 0M124.9 235.8a2.7 1.7 0 1 0 5.4 0a2.7 1.7 0 1 0 -5.4 0M131.3 235.8a2.7 1.7 0 1 0 5.4 0a2.7 1.7 0 1 0 -5.4 0M137.7 235.8a2.7 1.7 0 1 0 5.4 0a2.7 1.7 0 1 0 -5.4 0M144.1 235.8a2.7 1.7 0 1 0 5.4 0a2.7 1.7 0 1 0 -5.4 0M150.5 235.8a2.7 1.7 0 1 0 5.4 0a2.7 1.7 0 1 0 -5.4 0M102.5 239.8a2.7 1.7 0 1 0 5.4 0a2.7 1.7 0 1 0 -5.4 0M108.9 239.8a2.7 1.7 0 1 0 5.4 0a2.7 1.7 0 1 0 -5.4 0M115.3 239.8a2.7 1.7 0 1 0 5.4 0a2.7 1.7 0 1 0 -5.4 0M121.7 239.8a2.7 1.7 0 1 0 5.4 0a2.7 1.7 0 1 0 -5.4 0M128.1 239.8a2.7 1.7 0 1 0 5.4 0a2.7 1.7 0 1 0 -5.4 0M134.5 239.8a2.7 1.7 0 1 0 5.4 0a2.7 1.7 0 1 0 -5.4 0M140.9 239.8a2.7 1.7 0 1 0 5.4 0a2.7 1.7 0 1 0 -5.4 0M147.3 239.8a2.7 1.7 0 1 0 5.4 0a2.7 1.7 0 1 0 -5.4 0M153.7 239.8a2.7 1.7 0 1 0 5.4 0a2.7 1.7 0 1 0 -5.4 0" clip-path="url(#meshclip)" style="stroke:#a8a8a8;stroke-width:1"/>
<path class="t" d="M141 217.5C142.2 218.9 146.2 223.8 148 226C149.8 228.2 151.8 228.8 152.1 230.5C152.4 232.2 150.9 234.7 150 236C149.1 237.3 149.4 237.3 146.9 238.1C144.4 238.8 142.9 240.1 135.1 240.5C127.3 240.9 105.8 240.8 100 240.8"/>
<path class="o" d="M62 242.5C68.3 242.5 85.9 242.5 100 242.7C114.1 242.8 138.8 243.3 146.5 243.4"/>
<path class="o" d="M144.8 244.8C148.1 244.5 159 243.7 165 243.5C171 243.3 177.8 243.1 181 243.5C184.2 243.9 184 245.2 184 246C184 246.8 187.3 248.1 181 248.5C174.7 248.9 152 249.1 146 248.5C140 247.9 145 245.4 144.8 244.8"/>
<path class="o" d="M62 247.3C71.7 247.4 104.3 247.6 120 247.8C135.7 248 150 248.2 156 248.3"/>
<path class="t" d="M62 252.2C68.3 252.1 84.3 251.5 100 251.5C115.7 251.5 146.7 252.1 156 252.2"/>
<path class="o" d="M151.4 253.2V266.9Q151.4 272.7 158 272.7H181.6Q187.5 272.7 187.5 266.9V220"/>
<path class="o" d="M166 128.5C167.2 127.5 168.9 125.3 173.5 124.8C178.1 124.2 189.1 124.4 193.5 125.4C197.9 126.4 199.3 128.4 199.8 131C200.2 133.6 198.7 138.8 196 141C193.3 143.2 187.5 144.1 183.5 144.1C179.5 144.1 174.3 143 172.2 141C170.2 139 172 133.9 171 132.2C170 130.6 166.8 131.6 166 131C165.2 130.4 164.8 129.5 166 128.5Z"/>
<path class="o" d="M181 134C182.5 133.9 187.1 133.7 190 133.5C192.9 133.3 197.1 133 198.5 132.9"/></g>
<use href="#fhalf" transform="translate(124 0) scale(-1 1)"/>
<path class="l" d="M90 137C91 136.6 92.3 136.2 96 134.8C99.7 133.3 107 129.3 112.2 128.5C117.5 127.7 123.1 128.3 127.2 129.8C131.4 131.2 135.6 136 137.2 137.2"/>
<ellipse cx="62" cy="176.4" rx="4.6" ry="3.3" fill="#333"/><path d="M62 176.4h-2.8a2.8 2 0 0 1 2.8-2zM62 176.4h2.8a2.8 2 0 0 1-2.8 2z" fill="#ccc"/>
</g>
<g id="top">
<g id="thalf"><path class="o" d="M0 441.3C10 441.2 45 440.6 60 440.5C75 440.4 81.7 440.5 90 441C98.3 441.5 103.8 442.9 110 443.5C116.2 444.1 112 444.4 127 444.5C142 444.6 171.2 444.2 200 444.2C228.8 444.2 274.2 444.2 300 444.3C325.8 444.4 341.7 444.9 354.7 444.5C367.7 444.1 363.8 442.2 378 441.6C392.2 441 424.5 440.5 440 440.6C455.5 440.7 460.8 440.5 471.2 442.2C481.7 443.9 493.4 448.5 502.5 450.8C511.6 453.1 519.5 453.8 526 456.2C532.5 458.7 537.4 462.1 541.6 465.6C545.8 469.1 548.1 472.8 551 477C553.9 481.2 556.7 483.6 558.8 490.6C560.8 497.6 562.4 509.7 563.4 518.8C564.4 527.8 564.6 536.9 565 545C565.4 553.1 565.4 563.8 565.5 567.5"/>
<path class="o" d="M0 451.5C5.2 450.7 20.8 447.7 31.2 446.9C41.7 446.1 53.4 446.5 62.5 446.9C71.6 447.3 77.8 448.7 86 449.2C94.2 449.7 105.2 449.5 112 450C118.8 450.5 121.5 449.9 127 452C132.5 454.1 137 458.5 145 462.5C153 466.5 163.8 472 175 476C186.2 480 199 484.3 212.5 486.2C226 488.2 245.1 487.4 256 487.5C266.9 487.6 267.5 487.2 278 487C288.5 486.8 304.7 486.7 318.8 486C332.8 485.3 348.7 484.1 362.5 482.8C376.3 481.5 392.5 479.8 401.6 478.1C410.7 476.4 414.6 473.6 417.2 472.7"/>
<path class="o" d="M0 462C7.8 461.6 30.2 459.9 46.9 459.4C63.6 458.9 82.8 458.7 100 458.8C117.2 458.9 133.3 460 150 460C166.7 460 181.7 458.8 200 458.6C218.3 458.4 242 458.4 260 458.8C278 459.2 299.8 460.6 307.8 461"/>
<path class="o" d="M0 470C7.8 469.1 31.3 465.8 46.9 464.5C62.5 463.2 80.7 462.8 93.8 462.5C106.8 462.2 115.6 461.8 125 463C134.4 464.2 138 466 150 470C162 474 185.7 483.2 196.9 487C208.1 490.8 203.7 490.9 217.2 492.5C230.7 494.1 257.7 496.1 278 496.4C298.3 496.7 320.8 495 339 494.3C357.2 493.6 372.3 493 387.5 492.2C402.7 491.4 415.8 490.3 430 489.6C444.2 488.9 465.7 488.1 472.8 487.8"/>
<path class="o" d="M150 476C157.8 478.3 185.7 486.7 196.9 490C208.1 493.3 203.7 493.9 217.2 495.6C230.7 497.3 256.4 499.8 278 500.3C299.6 500.8 327.6 499.5 346.9 498.6C366.2 497.7 381.6 495.8 393.8 495C405.9 494.2 415.6 494.2 420 494"/>
<path class="o" d="M472.8 487.8C477.3 487.4 489.8 485.9 500 485.5C510.2 485.1 526.8 485 533.8 485.2C540.7 485.4 540.3 486.4 541.6 486.7"/>
<path class="o" d="M170 462.2C181.7 462.2 218.3 462.2 240 462.2C261.7 462.2 282.2 462.1 300 462.3C317.8 462.5 339.1 463.3 346.9 463.5"/>
<path class="o" d="M92.5 441.8C94.8 441.6 104.2 442.8 110 444C115.8 445.2 127.3 448 127.5 448.8C127.7 449.6 116.2 449.2 111 448.6C105.8 448 99.1 446.1 96 445C92.9 443.9 90.2 442 92.5 441.8Z"/>
<path class="o" d="M0 513.3C9.2 512.7 36.5 510.9 55 509.6C73.5 508.3 101.7 506.2 111 505.5"/>
<path class="o" d="M0 556.3H31"/>
<path class="o" d="M133 465C131.3 467.5 126.2 474.2 122.8 480C119.4 485.8 115.1 492.5 112.5 500C109.9 507.5 108.2 517.9 107 525C105.8 532.1 105.9 535.4 105.6 542.5C105.3 549.6 105.1 563.3 105 567.5"/>
<path class="o" d="M122.8 567.5C122.9 563.3 123.1 551.2 123.6 542.5C124.1 533.8 124.6 523.4 126 515C127.4 506.6 129.5 497.7 132 492C134.5 486.3 138 483.3 141 481C144 478.7 144.3 477.6 150 478C155.7 478.4 166.8 481.3 175 483.5C183.2 485.7 194.8 488.8 199.4 491C204 493.2 202.2 492.2 202.5 497C202.8 501.8 201.5 514 201 520C200.5 526 200.9 530 199.4 533C197.9 536 194.1 536.7 192 538C189.9 539.3 188.2 539 186.9 541C185.6 543 184.5 547.3 184 550C183.5 552.7 184.8 555.2 183.8 557C182.8 558.8 179 558.8 178 560.5C177 562.2 177.6 566.3 177.5 567.5"/>
<path class="o" d="M215 492.5C214 497.1 210.2 511.7 209 520C207.8 528.3 207.8 534.6 207.5 542.5C207.2 550.4 207.2 563.3 207.2 567.5"/>
<path class="o" d="M158 462.5C157.8 461.2 158.2 459.1 159.5 456C160.8 452.9 163.6 447.6 166 444C168.4 440.4 171.5 436.7 174 434.5C176.5 432.3 178.5 431.7 181 431C183.5 430.3 187.5 430.2 189 430.5C190.5 430.8 190.5 431.1 190 433C189.5 434.9 188.2 438.3 186 442C183.8 445.7 180 451.7 177 455C174 458.3 170.7 460.6 168 462C165.3 463.4 162.7 463.4 161 463.5C159.3 463.6 158.2 463.8 158 462.5Z"/>
<path class="t" d="M187.5 434C186.8 435.7 185.1 440.5 183 444C180.9 447.5 177.5 452.2 175 455C172.5 457.8 169.2 459.6 168 460.5"/>
<path class="o" d="M171 460.5L179.7 471M166 462.5L179.7 471"/>
<ellipse class="o" cx="284.8" cy="448" rx="15.5" ry="3.6"/><ellipse class="t" cx="286" cy="448.6" rx="8" ry="2"/>
<path class="o" d="M315.6 444.5C314.3 447.2 308.2 456.1 307.8 461C307.4 465.9 311.2 469.8 313 474C314.8 478.2 317.8 484 318.8 486"/>
<path class="o" d="M307.8 461C314.3 461.2 333.2 461.4 346.9 462.5C360.6 463.6 378.3 465.8 390 467.5C401.7 469.2 412.7 471.8 417.2 472.7"/>
<path class="t" d="M309.4 464C316.9 464.4 339.1 464.6 354.7 466.4C370.3 468.2 395.4 472.8 403 475C410.6 477.2 400.5 478.9 400 479.7"/>
<path class="o" d="M314 450.8C323.3 450.7 351.8 450.5 370 450.4C388.2 450.3 414.2 450.1 423 450"/>
<rect class="o" x="423.4" y="449.2" width="33.6" height="17.2" rx="3.5"/>
<path class="o" d="M457 453.9L486.9 457"/>
<path class="o" d="M486.9 454.7C492.1 455 509.7 454.7 518 456.2C526.3 457.8 531.7 458.8 536.9 464C542.1 469.2 546.3 478.4 549.4 487.5C552.5 496.6 554.3 509.2 555.6 518.8C556.9 528.3 556.9 536.9 557.2 545C557.5 553.1 557.5 563.8 557.5 567.5"/>
<path class="t" d="M486.9 456.2C493.4 457.8 516.9 460.9 526 465.6C535.1 470.3 537.8 476.2 541.6 484.4C545.4 492.6 547.2 504.9 549 515C550.8 525.1 551.8 536.2 552.5 545C553.2 553.8 552.9 563.8 553 567.5"/>
<path class="t" d="M491.6 459.4C496.5 461.2 513.5 465.9 521.2 470.3C529 474.7 534.4 478.6 538.4 486C542.4 493.4 543.4 505.2 545 515C546.6 524.8 547.3 536.2 547.8 545C548.3 553.8 548 563.8 548 567.5"/>
<path class="o" d="M388.4 491.7C389.2 495.6 391.4 506.5 393 515C394.6 523.5 396.7 533.8 397.8 542.5C398.9 551.2 399.1 563.3 399.4 567.5"/>
<path class="o" d="M472.8 487.8C474.1 488.3 478.2 488.8 480.6 491C483 493.2 485.4 497.6 487 501C488.6 504.4 488.8 506.4 490 511.2C491.2 516.1 493 524.8 494 530C495 535.2 495.9 536.2 496.2 542.5C496.6 548.8 496.2 563.3 496.2 567.5"/>
<path class="o" d="M410.3 567.5C410.3 565.9 410.6 562.2 410.3 558C410 553.8 409.5 545.9 408.8 542.5C408 539.1 406.9 544.3 405.6 537.8C404.3 531.3 401.4 509.9 401 503.4C400.6 496.9 401.4 500 403 499C404.6 498 400 497.8 410.3 497.2C420.6 496.6 453.8 495.1 465 495.6C476.2 496.1 474.3 497.9 477.5 500.3C480.7 502.7 482.4 506.9 484 510C485.6 513.1 486.1 514 486.9 519C487.7 524 488.5 531.9 489 540C489.5 548.1 489.8 562.9 490 567.5"/>
<path class="l" d="M200 541C202.6 541.8 208.9 544.6 215.6 545.6C222.3 546.6 232.6 546.7 240 547C247.4 547.3 256.7 547.4 260 547.5"/>
<path class="l" d="M212.5 495C217.1 495.2 232.1 496.1 240 496.5C247.9 496.9 256.7 497.3 260 497.5"/>
<path class="l" d="M218.75 497V541M218.75 508.75H260M218.75 526.25H260M260 485V547.5"/>
<path class="l" d="M257.5 486C260.4 485.2 268.8 481.8 275 481.2C281.2 480.8 290 482 295 483C300 484 302.5 484.2 305 487.5C307.5 490.8 309 496.2 310 502.5C311 508.8 312.1 517.9 311.2 525C310.4 532.1 309.8 540.6 305 545C300.2 549.4 289.7 550.6 282.5 551.2C275.3 551.9 266.2 550.9 262 549C257.8 547.1 258.2 541.5 257.5 540"/>
<path class="l" d="M282.5 482C282.6 485 283 493.7 283 500C283 506.3 282.6 511.5 282.5 520C282.4 528.5 282.5 545.8 282.5 551"/>
<path class="l" d="M262 540C263.3 539.4 266.6 536.5 270 536.5C273.4 536.5 278.3 539.8 282.5 540C286.7 540.2 291.2 539.7 295 538C298.8 536.3 303.3 531.3 305 530"/>
<path class="l" d="M262 497C263.3 497.6 266.6 500.5 270 500.5C273.4 500.5 278.3 497.2 282.5 497C286.7 496.8 291.2 497.7 295 499C298.8 500.3 303.3 504 305 505"/>
<path class="l" d="M292.5 502C292.1 505 290 514.2 290 520C290 525.8 292.1 534.2 292.5 537"/>
<path class="l" d="M305 504C304.5 506.7 302 514.7 302 520C302 525.3 304.5 533.3 305 536"/>
<path class="l" d="M314 500H372Q375 500 375 503V548Q375 551.25 372 551.25H314Q311.25 551.25 311.25 548V503Q311.25 500 314 500Z"/>
<path class="l" d="M327.5 500V551M327.5 515H375M327.5 535H375"/>
<path class="l" d="M384 497.5H423.5Q426.25 497.5 426.25 500.5V548.5Q426.25 551.25 423.5 551.25H384Q381.25 551.25 381.25 548.5V500.5Q381.25 497.5 384 497.5Z"/>
<path class="l" d="M381.25 515H405M381.25 534H405"/>
<path class="l" d="M407 507.5H423Q425 507.5 425 509.5V535.5Q425 537.5 423 537.5H407Q405 537.5 405 535.5V509.5Q405 507.5 407 507.5Z"/></g>
<use href="#thalf" transform="translate(0 1135) scale(1 -1)"/>
</g>
<g id="rear">
<g id="rhalf"><path class="o" d="M953.3 451.5C948.4 451.5 933.1 451.1 924.2 451.5C915.3 451.9 906.1 453.5 900 453.9C893.9 454.3 890.8 453.8 887.5 454C884.2 454.2 881.2 454.8 880 455"/>
<path class="o" d="M953.3 467.2C948.4 467.2 933.1 467 924.2 467.2C915.3 467.4 907.2 468.1 900 468.5C892.8 468.9 884.4 469.5 881.2 469.7"/>
<path class="o" d="M924.2 452V467M929 451.5V467.2"/>
<path class="o" d="M953.3 453.3C952.2 454.8 946.6 460.8 946.6 462.4C946.6 464 952.2 462.7 953.3 462.8"/>
<path class="o" d="M887.5 454C885.9 454.4 881.4 453.7 878 456.5C874.6 459.3 871.2 463.3 867 471C862.8 478.7 857.7 494.8 853 502.5C848.3 510.2 842.8 512.4 839 517.5C835.2 522.6 832 528.4 830 533C828 537.6 827.6 540.5 827 545C826.4 549.5 826.5 545.2 826.4 560C826.3 574.8 826 620.4 826.4 633.8C826.8 647.1 827.7 638.6 829 640C830.3 641.4 829.1 641.9 834 642.3C838.9 642.7 853.4 642.7 858.4 642.3C863.4 641.9 862.8 641.4 864 640C865.2 638.6 865.2 638.5 865.5 634C865.8 629.5 865.5 616.2 865.5 612.7"/>
<path class="o" d="M884.4 457.2L879.7 469.7"/>
<path class="t" d="M879 462C877.8 465 875.2 473.7 872 480C868.8 486.3 864.5 494.5 860 500C855.5 505.5 847.5 510.8 845 513"/>
<path class="o" d="M879.7 470C879.2 470.7 877.7 471.5 876.6 474C875.5 476.5 873.9 481.8 873.4 485C872.9 488.2 872.8 490.9 873.4 493C874 495.1 872.6 496.8 877 497.5C881.4 498.2 887.3 497.1 900 497C912.7 496.9 944.4 496.9 953.3 496.9"/>
<path class="o" d="M893.8 470.5C892.5 470.9 887.7 471.4 886 473C884.3 474.6 884 477.2 883.5 480C883 482.8 882.4 487.6 882.8 490C883.2 492.4 883.1 493.8 886 494.7C888.9 495.6 888.8 495.3 900 495.5C911.2 495.7 944.4 495.7 953.3 495.7"/>
<path class="o" d="M873.4 499.4C873.1 502.5 871.6 512.3 871.9 518C872.2 523.7 872.4 528 875 533.8C877.6 539.5 881.8 548.7 887.5 552.5C893.2 556.3 898.4 555.8 909.4 556.4C920.4 557 946 556.4 953.3 556.4"/>
<path class="o" d="M875 504C878.1 503.8 885.5 503.3 893.8 502.5C902 501.7 917.1 499.5 924.2 499.3C931.3 499.1 931.4 500.8 936.3 501.1C941.1 501.4 950.5 501.1 953.3 501.1"/>
<path class="t" d="M878 507C881.7 506.5 887.5 504.5 900 504.2C912.5 503.9 944.4 504.9 953.3 505"/>
<path class="o" d="M839 516.6C841.7 515.7 848.5 512.8 855 511C861.5 509.2 868.8 507.2 878 505.6C887.2 504 904.7 502.2 910 501.5"/>
<path class="o" d="M840 516.6C844.9 515 858.4 517.2 870 518C881.6 518.8 901.6 520.5 909.4 521.2C917.2 522 917.6 521.5 917 522.8C916.4 524.1 913.5 527.4 906 529C898.5 530.6 881.8 530.9 871.9 532.2C862 533.5 852.1 537.8 846.9 537C841.7 536.2 841.8 530.9 840.6 527.5C839.5 524.1 835.1 518.2 840 516.6Z"/>
<path class="t" d="M850 519.7C850.3 521 849.5 526.5 851.6 527.5C853.7 528.5 858.6 527 862.5 526C866.4 525 872.9 522 875 521.2"/>
<path class="o" d="M873 522.3C879.9 522.3 901.1 522.3 914.5 522.3C927.9 522.3 946.8 522.3 953.3 522.3"/>
<path class="o" d="M859.4 540.8H915.6"/>
<rect class="o" x="934.4" y="530" width="37.8" height="8.4" rx="4.2"/>
<path class="o" d="M880.3 540C882.1 541.8 879.1 548.8 891.2 550.5C903.4 552.2 943 550.5 953.3 550.5"/>
<path class="o" d="M887 553C889.8 553.4 892.7 555.2 903.8 555.6C914.8 556 945 555.6 953.3 555.6"/>
<path class="o" d="M814 497.8C814.8 495.9 814.3 494.6 818.8 494C823.2 493.4 835.7 493.4 840.6 494C845.5 494.6 847.6 496.4 848.4 497.8C849.2 499.2 846.6 500.1 845.3 502.5C844 504.9 844.8 510.5 840.6 511.9C836.4 513.3 824.7 512 820.3 511C815.9 509.9 815 507.8 814 505.6C813 503.4 813.2 499.7 814 497.8Z"/>
<path class="t" d="M817 497C820.3 494.9 835.2 494.5 839 496.5C842.8 498.5 843.3 506.9 840 509C836.7 511.1 822.8 511 819 509C815.2 507 813.7 499.1 817 497Z"/>
<path class="o" d="M845 591.5C845.2 585.5 844 563.9 846 555.6C848 547.3 851.4 544.2 856.9 541.6C862.4 539 875.1 540.3 878.8 540"/>
<path class="o" d="M845 591.5V561Q846.5 559 848 560L850.5 563V591.5"/>
<path class="o" d="M829.5 560C829.7 564.2 830.2 578.4 830.5 585C830.8 591.6 830.9 597.3 831 599.8"/>
<path class="o" d="M831 599.8C833.1 598.5 837.7 593.4 843.4 592C849.1 590.6 861.6 591.4 865.3 591.2"/>
<path class="o" d="M831.7 609.2C835 608.6 844.1 606.1 851.2 605.3C858.4 604.5 868.5 604.6 874.7 604.5C881 604.4 886.4 604.5 888.8 604.5"/>
<path class="o" d="M831.7 609.6L865.3 612.3"/>
<path class="o" d="M866.9 591.2C867 589.9 866.4 585.6 867.7 583.4C869 581.2 869.3 579.3 874.7 578C880.1 576.7 886.9 576 900 575.6C913.1 575.2 944.4 575.6 953.3 575.6"/>
<path class="o" d="M866.9 595.2C868.3 596 873.9 601.4 875.5 599.8C877.1 598.2 875.3 588.9 876.2 585.8C877.2 582.7 877 582 881 581C885 580 888 580.2 900 580C912 579.8 944.4 580 953.3 580"/>
<path class="o" d="M856.7 585C858.4 583 863.6 576.2 866.9 573.3C870.2 570.4 870.7 568.8 876.2 567.8C881.8 566.8 887.2 567.5 900 567.4C912.8 567.3 944.4 567.3 953.3 567.3"/>
<path class="o" d="M884.8 605.3C885.1 606.6 884.8 611 886.4 613.1C888 615.2 891.9 616.9 894.2 617.8C896.5 618.7 890.1 618.5 900 618.6C909.9 618.7 944.4 618.6 953.3 618.6"/>
<path class="o" d="M866.2 622C871.9 622 885.5 622.1 900 622C914.5 621.9 944.4 621.6 953.3 621.5"/>
<path class="o" d="M888.75 581V604.5M927.2 580V619M889 589.5H927.2"/>
<circle class="o" cx="902.2" cy="598.6" r="6.8"/><circle class="o" cx="917" cy="598.6" r="6.8"/>
<path class="t" d="M899.6 605.5V618M901.8 605.5V618M915 605.5V618M917.3 605.5V618"/>
<path class="o" d="M943.6 604V619M946 604V619"/>
<path class="o" d="M933.4 587H953.3"/>
<path class="t" d="M927.2 604H953.3"/></g>
<use href="#rhalf" transform="translate(1906.6 0) scale(-1 1)"/>
<circle cx="953.3" cy="514.5" r="5.4" fill="#333"/><path d="M953.3 514.5V511A3.5 3.5 0 0 1 956.8 514.5ZM953.3 514.5V518A3.5 3.5 0 0 1 949.8 514.5Z" fill="#ddd"/>
</g>
</g>
</svg>
</body></html>
